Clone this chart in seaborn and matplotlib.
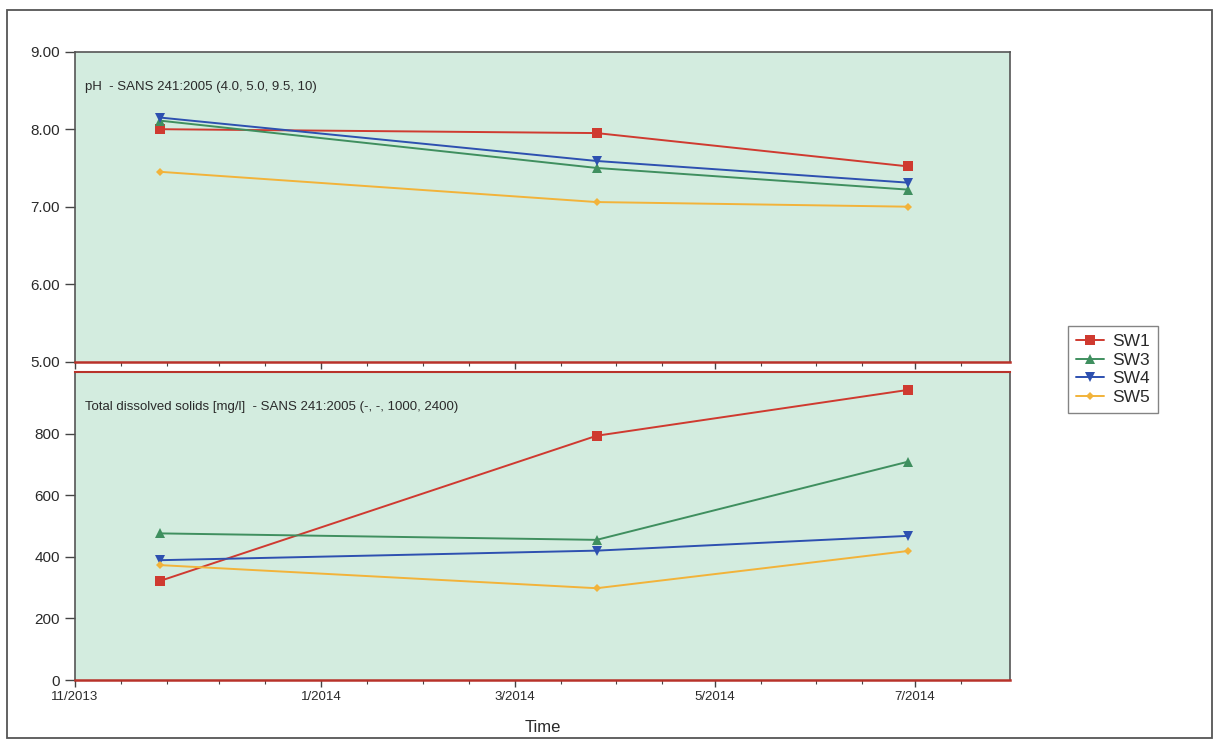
import numpy as np
import pandas as pd
import matplotlib
matplotlib.use("Agg")
import matplotlib.pyplot as plt
import matplotlib.dates as mdates
from matplotlib.patches import Rectangle
from matplotlib.lines import Line2D
import seaborn as sns

# Sampling dates and monitored sites
dates = pd.to_datetime(["2013-11-13", "2014-03-26", "2014-06-29"])
sites = ["SW1", "SW3", "SW4", "SW5"]

# pH readings per site
ph_sw1 = [8.00, 7.95, 7.52]
ph_sw3 = [8.11, 7.50, 7.22]
ph_sw4 = [8.15, 7.59, 7.31]
ph_sw5 = [7.45, 7.06, 7.00]

# Total dissolved solids [mg/l] per site
tds_sw1 = [322, 793, 942]
tds_sw3 = [476, 455, 709]
tds_sw4 = [389, 420, 468]
tds_sw5 = [373, 298, 419]

x_tick_dates = pd.to_datetime(["2013-10-18", "2014-01-01", "2014-03-01",
                               "2014-05-01", "2014-07-01"])
x_tick_labels = ["11/2013", "1/2014", "3/2014", "5/2014", "7/2014"]
ph_ticks = [5, 6, 7, 8, 9]
tds_ticks = [0, 200, 400, 600, 800]

ph_title = "pH  - SANS 241:2005 (4.0, 5.0, 9.5, 10)"
tds_title = "Total dissolved solids [mg/l]  - SANS 241:2005 (-, -, 1000, 2400)"

ph_vals = {"SW1": ph_sw1, "SW3": ph_sw3, "SW4": ph_sw4, "SW5": ph_sw5}
tds_vals = {"SW1": tds_sw1, "SW3": tds_sw3, "SW4": tds_sw4, "SW5": tds_sw5}

rows = []
for s in sites:
    for d, p, t in zip(dates, ph_vals[s], tds_vals[s]):
        rows.append({"date": d, "site": s, "ph": p, "tds": t})
df = pd.DataFrame(rows)

sns.set_theme(style="white")
plt.rcParams["font.family"] = ["Liberation Sans", "DejaVu Sans"]

palette = {"SW1": "#cf3a30", "SW3": "#3f8f5f", "SW4": "#2d50b0", "SW5": "#f2b33a"}
markers = {"SW1": "s", "SW3": "^", "SW4": "v", "SW5": "D"}
msizes = {"SW1": 7, "SW3": 7, "SW4": 7, "SW5": 4.5}
face = "#d3ecdf"
spine_grey = "#555555"
spine_red = "#b8322a"
text_col = "#2a2a2a"

fig = plt.figure(figsize=(12.2, 7.4), dpi=100)
fig.patch.set_facecolor("white")

ax1 = fig.add_axes([75 / 1220, 1 - 361.7 / 740, 935 / 1220, 310 / 740])
ax2 = fig.add_axes([75 / 1220, 1 - 680 / 740, 935 / 1220, 308 / 740], sharex=ax1)

for ax, col in ((ax1, "ph"), (ax2, "tds")):
    ax.set_facecolor(face)
    sns.lineplot(data=df, x="date", y=col, hue="site", style="site",
                 palette=palette, markers=markers, dashes=False,
                 markersize=7, linewidth=1.4, markeredgewidth=0,
                 legend=False, ax=ax)
    # per-series marker sizes
    for line, s in zip(ax.get_lines(), sites):
        line.set_markersize(msizes[s])
    ax.set_xlabel("")
    ax.set_ylabel("")

ax1.set_ylim(5, 9)
ax1.set_yticks(ph_ticks)
ax1.set_yticklabels([f"{v:.2f}" for v in ph_ticks])
ax2.set_ylim(0, 1000)
ax2.set_yticks(tds_ticks)
ax2.set_yticklabels([str(v) for v in tds_ticks])

ax1.set_xlim(pd.Timestamp("2013-10-18"), pd.Timestamp("2014-07-30"))
ax2.set_xticks(x_tick_dates)
ax2.set_xticklabels(x_tick_labels)
ax2.xaxis.set_minor_locator(mdates.DayLocator(bymonthday=[1, 15]))

for ax in (ax1, ax2):
    ax.tick_params(axis="both", which="both", colors="#444444",
                   labelcolor=text_col, direction="out",
                   left=True, bottom=True)
    ax.tick_params(axis="y", which="major", length=7, width=1,
                   labelsize=11, pad=4)
    ax.tick_params(axis="x", which="major", length=5, width=1,
                   labelsize=9.5, pad=3)
    ax.tick_params(axis="x", which="minor", length=3, width=0.8)
    ax.tick_params(axis="y", which="minor", left=False)
plt.setp(ax1.get_xticklabels(), visible=False)

for ax in (ax1, ax2):
    for side in ("left", "right", "top"):
        ax.spines[side].set_color(spine_grey)
        ax.spines[side].set_linewidth(1.2)
    ax.spines["bottom"].set_color(spine_red)
    ax.spines["bottom"].set_linewidth(1.8)
ax2.spines["top"].set_color(spine_red)
ax2.spines["top"].set_linewidth(1.5)

ax1.text(0.011, 0.885, ph_title, transform=ax1.transAxes, fontsize=9.5,
         color=text_col, va="center", ha="left")
ax2.text(0.011, 0.885, tds_title, transform=ax2.transAxes, fontsize=9.5,
         color=text_col, va="center", ha="left")

ax2.set_xlabel("Time", fontsize=12, color=text_col, labelpad=12)

# Legend placed beside the panels
handles = [Line2D([0], [0], color=palette[s], marker=markers[s],
                  markersize=msizes[s] - 0.5, markeredgewidth=0, linewidth=1.4)
           for s in sites]
leg = fig.legend(handles, sites, loc="upper left",
                 bbox_to_anchor=(1068 / 1220, 1 - 326 / 740),
                 frameon=True, fancybox=False, fontsize=12.5,
                 handlelength=1.6, handletextpad=0.5, labelspacing=0.2,
                 borderpad=0.45, borderaxespad=0.0, labelcolor=text_col)
leg.get_frame().set_edgecolor("#666666")
leg.get_frame().set_linewidth(1.0)

# Outer frame around the whole chart
fig.patches.append(Rectangle((7 / 1220, 2 / 740), 1205 / 1220, 728 / 740,
                             transform=fig.transFigure, fill=False,
                             edgecolor="#555555", linewidth=1.3))

fig.savefig("out.png", dpi=100, facecolor="white")
